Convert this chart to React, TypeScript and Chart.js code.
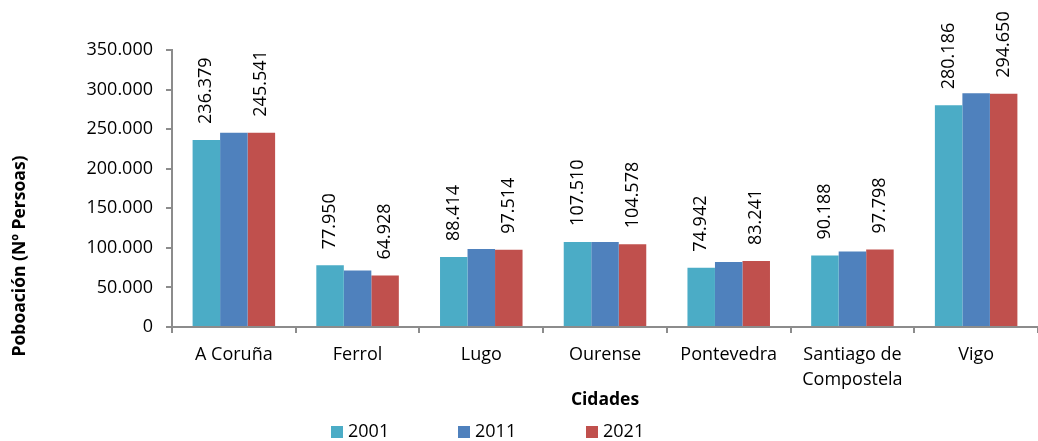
import React, { useEffect, useRef } from 'react';
import { Chart, registerables } from 'chart.js';

Chart.register(...registerables);

const cities: (string | string[])[] = ['A Coruña', 'Ferrol', 'Lugo', 'Ourense', 'Pontevedra', ['Santiago de', 'Compostela'], 'Vigo'];
const years = ['2001', '2011', '2021'];
const pop2001 = [236379, 77950, 88414, 107510, 74942, 90188, 280186];
const pop2011 = [245400, 71300, 98450, 107300, 82000, 95400, 295200];
const pop2021 = [245541, 64928, 97514, 104578, 83241, 97798, 294650];
const labelledSeries = [0, 2];
const yMax = 350000;
const yStep = 50000;
const yTitle = 'Poboación (Nº Persoas)';
const xTitle = 'Cidades';

const colors = ['#4BACC6', '#4F81BD', '#C0504D'];
const FONT = '"Open Sans", sans-serif';

const fmt = (n: number) => String(Math.round(n)).replace(/\B(?=(\d{3})+(?!\d))/g, '.');

const annotPlugin = {
  id: 'annot',
  afterDatasetsDraw(chart: any) {
    const ctx = chart.ctx;
    ctx.save();
    ctx.fillStyle = '#000';
    ctx.font = `18px ${FONT}`;
    labelledSeries.forEach((di) => {
      const meta = chart.getDatasetMeta(di);
      const data = chart.data.datasets[di].data as number[];
      meta.data.forEach((bar: any, j: number) => {
        ctx.save();
        ctx.translate(bar.x, bar.y - 16);
        ctx.rotate(-Math.PI / 2);
        ctx.textAlign = 'left';
        ctx.textBaseline = 'middle';
        ctx.fillText(fmt(data[j]), 0, 0);
        ctx.restore();
      });
    });
    ctx.restore();
  },
  afterDraw(chart: any) {
    const ctx = chart.ctx;
    const area = chart.chartArea;
    ctx.save();
    ctx.fillStyle = '#000';
    // y title
    ctx.font = `bold 17.5px ${FONT}`;
    ctx.textAlign = 'center';
    ctx.textBaseline = 'middle';
    ctx.save();
    ctx.translate(20, 256);
    ctx.rotate(-Math.PI / 2);
    ctx.fillText(yTitle, 0, 0);
    ctx.restore();
    // x title
    ctx.font = `bold 17.5px ${FONT}`;
    ctx.fillText(xTitle, (area.left + area.right) / 2, 400);
    // legend
    ctx.font = `18px ${FONT}`;
    ctx.textAlign = 'left';
    const starts = [331, 458, 586];
    chart.data.datasets.forEach((ds: any, i: number) => {
      ctx.fillStyle = ds.backgroundColor;
      ctx.fillRect(starts[i], 426, 12, 12);
      ctx.fillStyle = '#000';
      ctx.fillText(ds.label, starts[i] + 17, 432);
    });
    ctx.restore();
  },
};

export default function App() {
  const ref = useRef<HTMLCanvasElement>(null);
  useEffect(() => {
    if (!ref.current) return;
    const series = [pop2001, pop2011, pop2021];
    const chart = new Chart(ref.current, {
      type: 'bar',
      data: {
        labels: cities as any,
        datasets: years.map((y, i) => ({
          label: y,
          data: series[i],
          backgroundColor: colors[i],
          borderWidth: 0,
          barPercentage: 1,
          categoryPercentage: 0.667,
        })),
      },
      options: {
        responsive: false,
        animation: false,
        devicePixelRatio: 1,
        layout: { padding: { top: 50, right: 0, left: 0, bottom: 0 } },
        plugins: { legend: { display: false }, tooltip: { enabled: false } },
        scales: {
          x: {
            grid: { drawOnChartArea: false, drawTicks: true, tickLength: 6, color: '#8c8c8c', lineWidth: 2, offset: true },
            border: { color: '#8c8c8c', width: 2 },
            ticks: { color: '#000', font: { family: FONT, size: 18, lineHeight: 1.39 }, padding: 9, maxRotation: 0, autoSkip: false },
            afterFit(scale: any) { scale.height = 114; },
          },
          y: {
            min: 0,
            max: yMax,
            grid: { drawOnChartArea: false, drawTicks: true, tickLength: 6, color: '#8c8c8c', lineWidth: 2 },
            border: { color: '#8c8c8c', width: 2 },
            ticks: { stepSize: yStep, color: '#000', font: { family: FONT, size: 18 }, padding: 13, callback: (v: any) => fmt(Number(v)) },
            afterFit(scale: any) { scale.width = 172; },
          },
        },
      },
      plugins: [annotPlugin],
    });
    return () => chart.destroy();
  }, []);
  return (
    <div style={{ position: 'absolute', left: 0, top: 0, width: 1038, height: 441, background: '#fff' }}>
      <canvas ref={ref} width={1038} height={441} />
    </div>
  );
}
